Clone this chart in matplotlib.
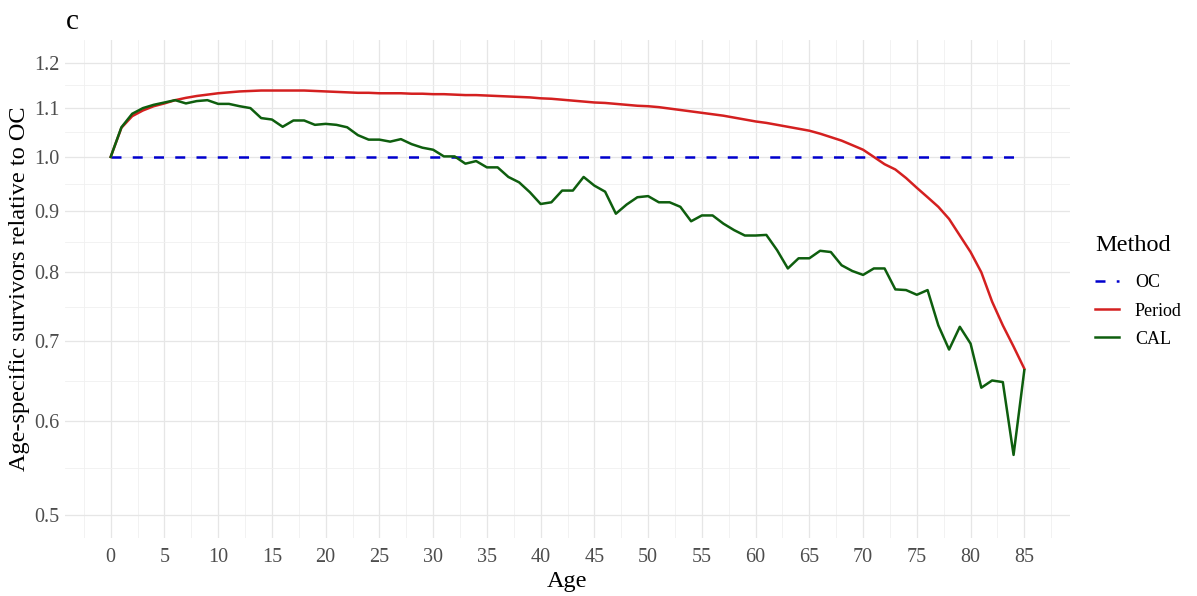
import numpy as np
import matplotlib
matplotlib.use("Agg")
import matplotlib.pyplot as plt
from matplotlib.ticker import FixedLocator, NullFormatter, FixedFormatter

ages = list(range(0, 86))

oc = [1.0] * 86

period = [1.000, 1.058, 1.082, 1.094, 1.103, 1.109, 1.116, 1.121, 1.125, 1.128,
          1.131, 1.133, 1.135, 1.136, 1.137, 1.137, 1.137, 1.137, 1.137, 1.136,
          1.135, 1.134, 1.133, 1.132, 1.132, 1.131, 1.131, 1.131, 1.130, 1.130,
          1.129, 1.129, 1.128, 1.127, 1.127, 1.126, 1.125, 1.124, 1.123, 1.122,
          1.120, 1.119, 1.117, 1.115, 1.113, 1.111, 1.110, 1.108, 1.106, 1.104,
          1.103, 1.101, 1.098, 1.095, 1.092, 1.089, 1.086, 1.083, 1.079, 1.075,
          1.071, 1.068, 1.064, 1.060, 1.056, 1.052, 1.046, 1.039, 1.032, 1.023,
          1.014, 1.000, 0.986, 0.976, 0.960, 0.942, 0.925, 0.908, 0.887, 0.859,
          0.832, 0.800, 0.756, 0.722, 0.693, 0.664]

cal = [1.000, 1.059, 1.087, 1.099, 1.106, 1.111, 1.116, 1.109, 1.114, 1.116,
       1.108, 1.108, 1.103, 1.099, 1.078, 1.075, 1.060, 1.073, 1.073, 1.064,
       1.066, 1.064, 1.059, 1.043, 1.034, 1.034, 1.030, 1.035, 1.025, 1.018,
       1.014, 1.001, 1.001, 0.987, 0.992, 0.980, 0.980, 0.962, 0.952, 0.934,
       0.913, 0.916, 0.937, 0.937, 0.962, 0.946, 0.935, 0.896, 0.912, 0.925,
       0.927, 0.916, 0.916, 0.908, 0.883, 0.893, 0.893, 0.879, 0.868, 0.859,
       0.859, 0.860, 0.835, 0.806, 0.822, 0.822, 0.834, 0.832, 0.811, 0.802,
       0.796, 0.806, 0.806, 0.774, 0.773, 0.766, 0.773, 0.722, 0.689, 0.720,
       0.697, 0.640, 0.649, 0.647, 0.562, 0.662]

x_ticks = list(range(0, 90, 5))
y_ticks = [0.5, 0.6, 0.7, 0.8, 0.9, 1.0, 1.1, 1.2]
y_tick_labels = ["0.5", "0.6", "0.7", "0.8", "0.9", "1.0", "1.1", "1.2"]

plt.rcParams['font.family'] = ['Liberation Serif', 'DejaVu Serif']

fig = plt.figure(figsize=(11.97, 5.96), dpi=100)
ax = fig.add_axes([65/1197, 1 - 538/596, (1070 - 65)/1197, (538 - 40)/596])

blue = "#0000CD"
red = "#D42020"
green = "#0E5E0E"

ax.plot(ages, oc, color=blue, lw=1.8, dashes=(4.0, 4.5), label="OC", zorder=3)
ax.plot(ages, period, color=red, lw=1.8, label="Period", zorder=3)
ax.plot(ages, cal, color=green, lw=1.8, label="CAL", zorder=4)

ax.set_yscale("log")
lo, hi = np.log(0.5), np.log(1.2)
pad = 0.05 * (hi - lo)
ax.set_ylim(np.exp(lo - pad), np.exp(hi + pad))
ax.set_xlim(-4.25, 89.25)

ax.yaxis.set_major_locator(FixedLocator(y_ticks))
ax.yaxis.set_major_formatter(FixedFormatter(y_tick_labels))
minor_y = [np.sqrt(a * b) for a, b in zip(y_ticks[:-1], y_ticks[1:])]
ax.yaxis.set_minor_locator(FixedLocator(minor_y))
ax.yaxis.set_minor_formatter(NullFormatter())

ax.xaxis.set_major_locator(FixedLocator(x_ticks))
minor_x = [t + 2.5 for t in range(-5, 90, 5)]
ax.xaxis.set_minor_locator(FixedLocator(minor_x))

ax.grid(which="major", color="#E6E6E6", lw=0.9)
ax.grid(which="minor", color="#F0F0F0", lw=0.6)
ax.set_axisbelow(True)
for s in ax.spines.values():
    s.set_visible(False)
ax.tick_params(which="both", length=0)
ax.tick_params(axis="both", labelsize=14.5, labelcolor="#4D4D4D")
ax.tick_params(axis="x", pad=7)
ax.tick_params(axis="y", pad=4)

ax.set_xlabel("Age", fontsize=17.5, labelpad=3)
ax.set_ylabel("Age-specific survivors relative to OC", fontsize=17.5, labelpad=3)

fig.text(66/1197, 1 - 22/596, "c", fontsize=21, ha="left", va="center")

leg = ax.legend(loc="upper left", bbox_to_anchor=(1079/1197, 1 - 219/596),
                bbox_transform=fig.transFigure, frameon=False, title="Method",
                fontsize=13, title_fontsize=17.5, handlelength=1.3,
                labelspacing=0.62, handletextpad=0.9)
leg._legend_box.align = "left"
leg._legend_box.sep = leg._legend_box.sep + 5

fig.savefig("out.png", dpi=100)
